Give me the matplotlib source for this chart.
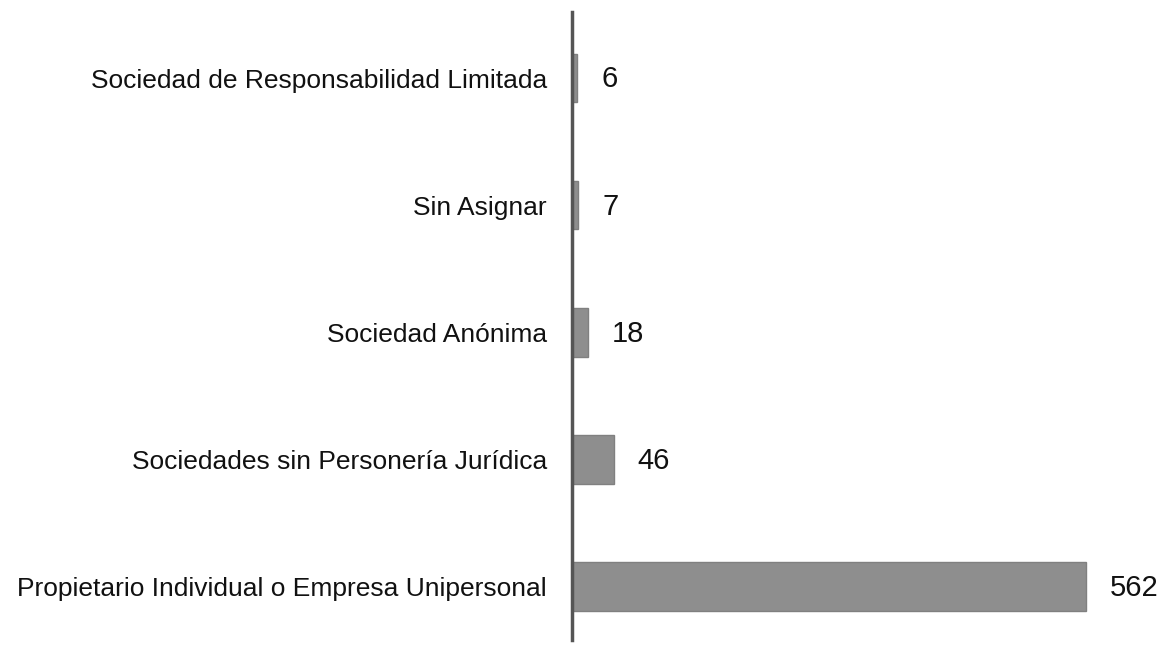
import matplotlib
matplotlib.use("Agg")
import matplotlib.pyplot as plt

categorias = [
    "Propietario Individual o Empresa Unipersonal",
    "Sociedades sin Personería Jurídica",
    "Sociedad Anónima",
    "Sin Asignar",
    "Sociedad de Responsabilidad Limitada",
]
valores = [562, 46, 18, 7, 6]

plt.rcParams['font.family'] = ['Liberation Sans Narrow', 'Liberation Sans', 'DejaVu Sans']

fig = plt.figure(figsize=(11.62, 6.45), dpi=100)
ax = fig.add_axes([572 / 1162, 5 / 645, 578 / 1162, 628 / 645])

pos = list(range(len(categorias)))
ax.barh(pos, valores, height=0.38, color="#8e8e8e", edgecolor="#808080", linewidth=1)

for y, v in zip(pos, valores):
    ax.annotate(str(v), (v, y), xytext=(17, -1), textcoords="offset points",
                va="center", ha="left", fontsize=21, color="#111111")

ax.set_xlim(0, 632)
ax.set_ylim(-0.42, 4.52)
ax.set_yticks(pos)
ax.set_yticklabels(categorias, fontsize=19, color="#111111")
ax.tick_params(axis="y", length=0, pad=18)
ax.set_xticks([])

for s in ["top", "right", "bottom"]:
    ax.spines[s].set_visible(False)
ax.spines["left"].set_color("#555555")
ax.spines["left"].set_linewidth(2.5)

fig.savefig("out.png", dpi=100, facecolor="white")
